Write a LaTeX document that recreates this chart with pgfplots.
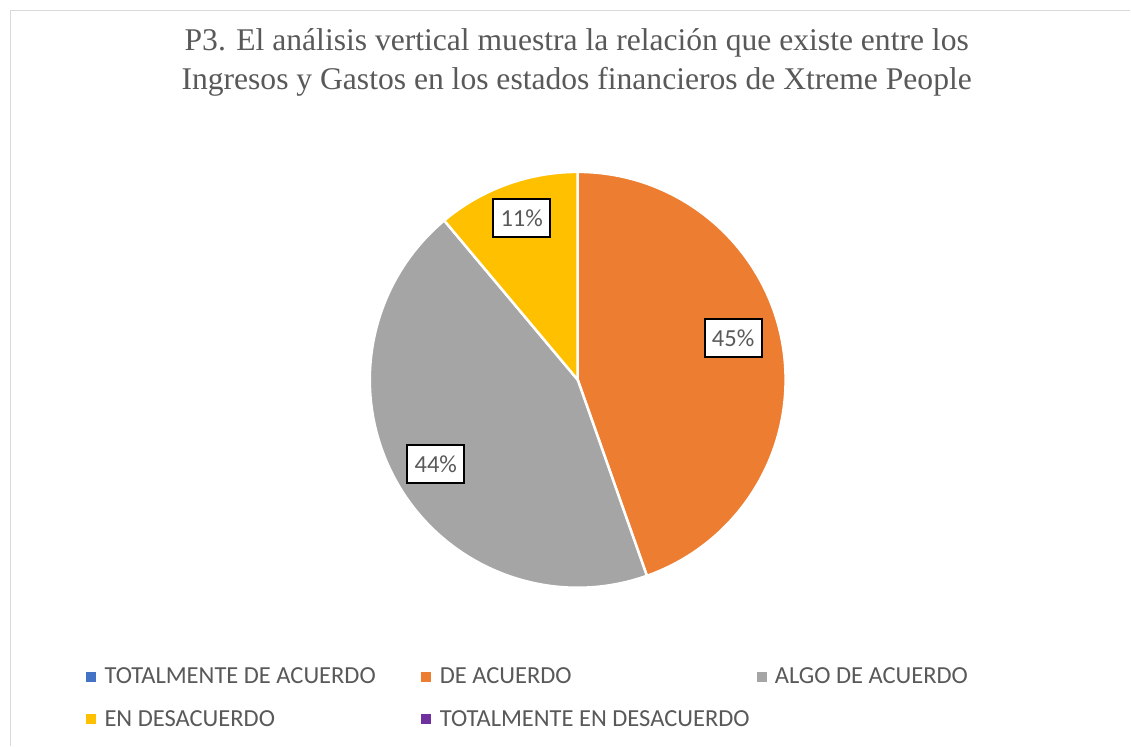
\documentclass[border=0pt]{standalone}
\usepackage{pgfplots}
\pgfplotsset{compat=1.18}
\usepackage{fontspec}
\setmainfont{Liberation Serif}
\newfontfamily\calibri{Carlito}
\definecolor{cBlue}{HTML}{4472C4}
\definecolor{cOrange}{HTML}{ED7D31}
\definecolor{cGray}{HTML}{A5A5A5}
\definecolor{cYellow}{HTML}{FFC000}
\definecolor{cPurple}{HTML}{7030A0}
\definecolor{txt}{HTML}{595959}
\definecolor{frame}{HTML}{D9D9D9}
\begin{document}
\begin{tikzpicture}
\begin{axis}[
  scale only axis, width=1131pt, height=746pt,
  xmin=0, xmax=1131, ymin=0, ymax=746,
  hide axis, clip=false,
  legend columns=3,
  legend style={draw=none, fill=none, font=\calibri\fontsize{24.5}{28}\selectfont, text=txt,
    at={(axis cs:83,84)}, anchor=north west,
    /tikz/every even column/.append style={column sep=0pt},
    row sep=17pt,
    nodes={inner sep=4pt}},
  legend cell align=left,
  legend image code/.code={\fill[#1] (0pt,-4.5pt) rectangle (9pt,4.5pt);},
]
\fill[white] (axis cs:0,0) rectangle (axis cs:1131,746);
\draw[frame, line width=1.2pt] (axis cs:10.5,0) -- (axis cs:10.5,735.5) -- (axis cs:1131,735.5);
% title
\node[font=\fontsize{31.6}{39}\selectfont, text=txt, align=center, anchor=base] at (axis cs:577,695)
  {P3. El análisis vertical muestra la relación que existe entre los};
\node[font=\fontsize{31.6}{39}\selectfont, text=txt, align=center, anchor=base] at (axis cs:577,656)
  {Ingresos y Gastos en los estados financieros de Xtreme People};
% pie: DE ACUERDO 44.6, ALGO DE ACUERDO 44.3, EN DESACUERDO 11.1 (TOTALMENTE DE ACUERDO 0, TOTALMENTE EN DESACUERDO 0)
\tikzset{wedge/.style={draw=white, line width=2.5pt, line join=round}}
\filldraw[wedge, fill=cOrange] (axis cs:578,366) -- ++(90:208pt)
   arc[start angle=90, end angle={90-3.6*44.6}, radius=208pt] -- cycle;
\filldraw[wedge, fill=cGray] (axis cs:578,366) -- ++({90-3.6*44.6}:208pt)
   arc[start angle={90-3.6*44.6}, end angle={90-3.6*(44.6+44.3)}, radius=208pt] -- cycle;
\filldraw[wedge, fill=cYellow] (axis cs:578,366) -- ++({90-3.6*(44.6+44.3)}:208pt)
   arc[start angle={90-3.6*(44.6+44.3)}, end angle={90-3.6*(44.6+44.3+11.1)}, radius=208pt] -- cycle;
% data labels
\tikzset{lab/.style={draw=black, line width=1.8pt, fill=white, font=\calibri\fontsize{24.5}{28}\selectfont, text=txt,
  minimum width=57pt, minimum height=38pt, inner sep=0pt}}
\node[lab] at (axis cs:733.5,408) {45\%};
\node[lab] at (axis cs:436,282) {44\%};
\node[lab] at (axis cs:522,528) {11\%};
% legend
\addlegendimage{cBlue}
\addlegendentry{\makebox[318pt][l]{\hspace{5pt}TOTALMENTE DE ACUERDO}}
\addlegendimage{cOrange}
\addlegendentry{\makebox[318pt][l]{\hspace{5pt}DE ACUERDO}}
\addlegendimage{cGray}
\addlegendentry{\makebox[318pt][l]{\hspace{5pt}ALGO DE ACUERDO}}
\addlegendimage{cYellow}
\addlegendentry{\makebox[318pt][l]{\hspace{5pt}EN DESACUERDO}}
\addlegendimage{cPurple}
\addlegendentry{\makebox[318pt][l]{\hspace{5pt}TOTALMENTE EN DESACUERDO}}
\end{axis}
\end{tikzpicture}
\end{document}
